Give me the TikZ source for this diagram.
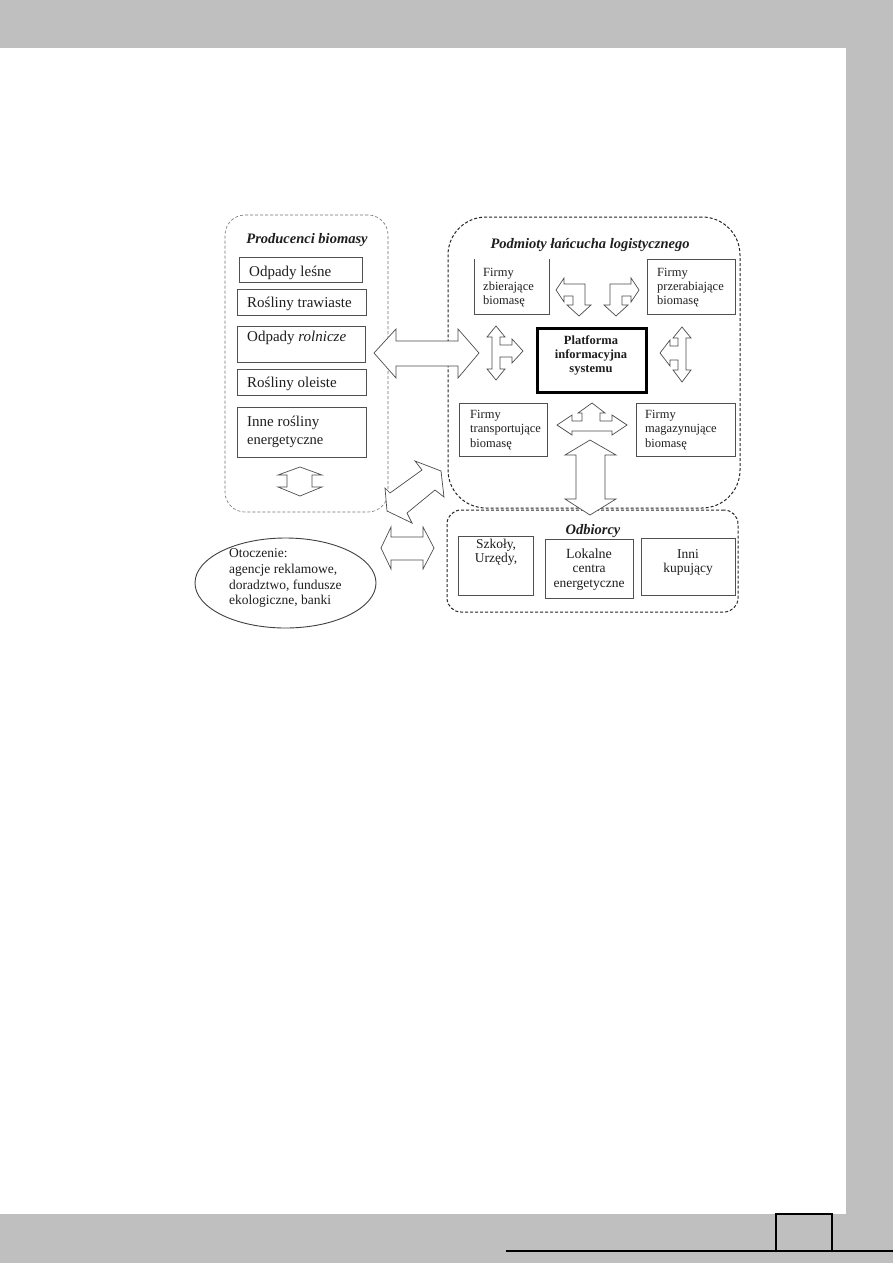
\documentclass[tikz,border=0pt]{standalone}
\usepackage{fontspec}
\setmainfont{Liberation Serif}
\usetikzlibrary{shapes.geometric}
\definecolor{pagegrey}{HTML}{BFBFBF}
\definecolor{ink}{HTML}{1E1E1E}
\definecolor{edge}{HTML}{505050}
\newcommand\fsz[1]{\fontsize{#1}{#1}\selectfont}
\newcommand\bx[6][]{\node[box,#1,minimum width={(#5-#3)*1pt},minimum height={(#6-#4)*1pt}] (#2) at ({(#3+#5)/2},{(#4+#6)/2}) {};}
\tikzset{
  x=1pt, y=-1pt,
  box/.style={draw=edge, line width=0.8pt, inner sep=0pt, outer sep=0pt},
  grpthin/.style={draw=black!55, line width=0.6pt, dash pattern=on 3pt off 2pt, inner sep=0pt},
  grpdark/.style={draw=black!85, line width=1.0pt, dash pattern=on 3pt off 2pt, inner sep=0pt},
  barrow/.style={draw=black!70, fill=white, line width=0.7pt, line join=miter},
  txt/.style={text=ink, inner sep=0pt},
}
\begin{document}
\begin{tikzpicture}
\useasboundingbox (0,0) rectangle (893,1263);
% page background
\fill[pagegrey] (0,0) rectangle (893,1263);
\fill[white] (0,48) rectangle (846,1214);
\draw[black, line width=1.3pt] (506,1251) -- (893,1251);
\node[draw=black, line width=1.5pt, fill=pagegrey, minimum width=56pt, minimum height=37pt, inner sep=0pt] (pagebox) at (804,1232.5) {};

% group frames
\node[grpthin, rounded corners=20pt, minimum width=163pt, minimum height=297pt] (prod) at (306.5,363.5) {};
\node[grpdark, rounded corners=38pt, minimum width=292pt, minimum height=291pt] (log) at (594,362.5) {};
\node[grpdark, rounded corners=14pt, minimum width=291pt, minimum height=102pt] (odb) at (592.5,561) {};

% titles
\node[txt, anchor=base] (tprod) at (307,243) {\fsz{14.5}\bfseries\itshape Producenci biomasy};
\node[txt, anchor=base] (tlog) at (590,248) {\fsz{14.5}\bfseries\itshape Podmioty łańcucha logistycznego};
\node[txt, anchor=base] (todb) at (593,534) {\fsz{14.5}\bfseries\itshape Odbiorcy};

% producer boxes
\bx{b1}{239}{257}{362}{282}
\bx{b2}{237}{289}{366}{315}
\bx{b3}{237}{326}{365}{362}
\bx{b4}{237}{369}{366}{395}
\bx{b5}{237}{407}{366}{457}
\node[txt, anchor=base west] (t1) at (249,276) {\fsz{15}Odpady leśne};
\node[txt, anchor=base west] (t2) at (247,307.5) {\fsz{15}Rośliny trawiaste};
\node[txt, anchor=base west] (t3) at (247,341.5) {\fsz{15}Odpady \textit{rolnicze}};
\node[txt, anchor=base west] (t4) at (247,387.5) {\fsz{15}Rośliny oleiste};
\node[txt, anchor=base west] (t5a) at (247,426.5) {\fsz{15}Inne rośliny};
\node[txt, anchor=base west] (t5b) at (247,444.5) {\fsz{14.5}energetyczne};

% logistics boxes
\bx[draw=none]{fz}{474}{259}{549}{314}
\draw[box] (fz.north west) -- (fz.south west) -- (fz.south east) -- (fz.north east);
\bx{fp}{647}{259}{735}{314}
\bx[draw=black, line width=3pt]{plat}{537}{328}{646}{392}
\bx{ft}{459}{403}{547}{456}
\bx{fm}{636}{403}{735}{456}

\node[txt, anchor=base west] (fz1) at (483,276) {\fsz{12.5}Firmy};
\node[txt, anchor=base west] (fz2) at (483,290) {\fsz{12.5}zbierające};
\node[txt, anchor=base west] (fz3) at (483,304) {\fsz{12.5}biomasę};
\node[txt, anchor=base west] (fp1) at (657,276) {\fsz{12.5}Firmy};
\node[txt, anchor=base west] (fp2) at (657,290) {\fsz{12.5}przerabiające};
\node[txt, anchor=base west] (fp3) at (657,304) {\fsz{12.5}biomasę};
\node[txt, anchor=base] (pl1) at (591,344) {\fsz{12.5}\bfseries Platforma};
\node[txt, anchor=base] (pl2) at (591,358) {\fsz{12.5}\bfseries informacyjna};
\node[txt, anchor=base] (pl3) at (591,372) {\fsz{12.5}\bfseries systemu};
\node[txt, anchor=base west] (ft1) at (470,418) {\fsz{12.5}Firmy};
\node[txt, anchor=base west] (ft2) at (470,432) {\fsz{12.5}transportujące};
\node[txt, anchor=base west] (ft3) at (470,447) {\fsz{12.5}biomasę};
\node[txt, anchor=base west] (fm1) at (645,418) {\fsz{12.5}Firmy};
\node[txt, anchor=base west] (fm2) at (645,432) {\fsz{12.5}magazynujące};
\node[txt, anchor=base west] (fm3) at (645,447) {\fsz{12.5}biomasę};

% receivers
\bx{o1}{458}{536}{533}{595}
\bx{o2}{545}{539}{633}{598}
\bx{o3}{641}{538}{735}{595}
\node[txt, anchor=base] (o1a) at (496,548) {\fsz{13.5}Szkoły,};
\node[txt, anchor=base] (o1b) at (496,562) {\fsz{13.5}Urzędy,};
\node[txt, anchor=base] (o2a) at (589,558) {\fsz{14}Lokalne};
\node[txt, anchor=base] (o2b) at (589,572) {\fsz{13.5}centra};
\node[txt, anchor=base] (o2c) at (589,587) {\fsz{13.5}energetyczne};
\node[txt, anchor=base] (o3a) at (688,558) {\fsz{13.5}Inni};
\node[txt, anchor=base] (o3b) at (688,572) {\fsz{13.5}kupujący};

% environment ellipse
\node[ellipse, draw=black!75, line width=0.9pt, minimum width=181pt, minimum height=90pt, inner sep=0pt] (env) at (285.5,583) {};
\node[txt, anchor=base west] (e1) at (229,557.5) {\fsz{13.5}Otoczenie:};
\node[txt, anchor=base west] (e2) at (229,573.5) {\fsz{13.5}agencje reklamowe,};
\node[txt, anchor=base west] (e3) at (229,589.5) {\fsz{13.5}doradztwo, fundusze};
\node[txt, anchor=base west] (e4) at (229,604.5) {\fsz{13.5}ekologiczne, banki};

% block arrows
% producers <-> logistics
\draw[barrow] (374,353) -- (396,329) -- (396,341) -- (458,341) -- (458,329) -- (479,353)
  -- (458,378) -- (458,366) -- (396,366) -- (396,378) -- cycle;
% inside producers
\draw[barrow] (300,467) -- (322,475) -- (312,475) -- (312,487) -- (322,487) -- (300,496)
  -- (278,487) -- (287,487) -- (287,475) -- (278,475) -- cycle;
% diagonal
\draw[barrow] (415,461) -- (422,470) -- (390,493) -- (385,488) -- (387,511) -- (412,523)
  -- (407,513) -- (435,490) -- (444,497) -- (441,471) -- cycle;
% environment <-> receivers
\draw[barrow] (381,548) -- (391,527) -- (391,537) -- (423,537) -- (423,527) -- (434,548)
  -- (423,569) -- (423,560) -- (391,560) -- (391,569) -- cycle;
% logistics <-> receivers
\draw[barrow] (590,440) -- (616,455) -- (605,455) -- (605,499) -- (616,499) -- (590,515)
  -- (565,499) -- (576,499) -- (576,455) -- (565,455) -- cycle;
% T arrow between transport and storage
\draw[barrow] (557,425) -- (572,415) -- (572,421) -- (582,421) -- (582,413) -- (578,413)
  -- (592,403) -- (605,413) -- (600,413) -- (600,421) -- (612,421) -- (612,415) -- (627,425)
  -- (612,435) -- (612,431) -- (572,431) -- (572,435) -- cycle;
% bent arrows at top
\draw[barrow] (556,290) -- (564,278) -- (564,284) -- (585,284) -- (585,305) -- (591,305)
  -- (579,316) -- (567,305) -- (573,305) -- (573,296) -- (564,296) -- (564,302) -- cycle;
\draw[barrow] (639,290) -- (631,278) -- (631,284) -- (610,284) -- (610,305) -- (604,305)
  -- (616,316) -- (628,305) -- (622,305) -- (622,296) -- (631,296) -- (631,302) -- cycle;
% left H arrow
\draw[barrow] (496,326) -- (505,337) -- (500,337) -- (500,345) -- (512,345) -- (512,339)
  -- (523,351) -- (512,363) -- (512,357) -- (500,357) -- (500,369) -- (505,369) -- (496,380)
  -- (487,369) -- (492,369) -- (492,337) -- (487,337) -- cycle;
% right H arrow
\draw[barrow] (682,327) -- (691,338) -- (686,338) -- (686,370) -- (691,370) -- (682,382)
  -- (673,370) -- (678,370) -- (678,360) -- (670,360) -- (670,366) -- (660,353) -- (670,340)
  -- (670,346) -- (678,346) -- (678,338) -- (673,338) -- cycle;
\end{tikzpicture}
\end{document}
